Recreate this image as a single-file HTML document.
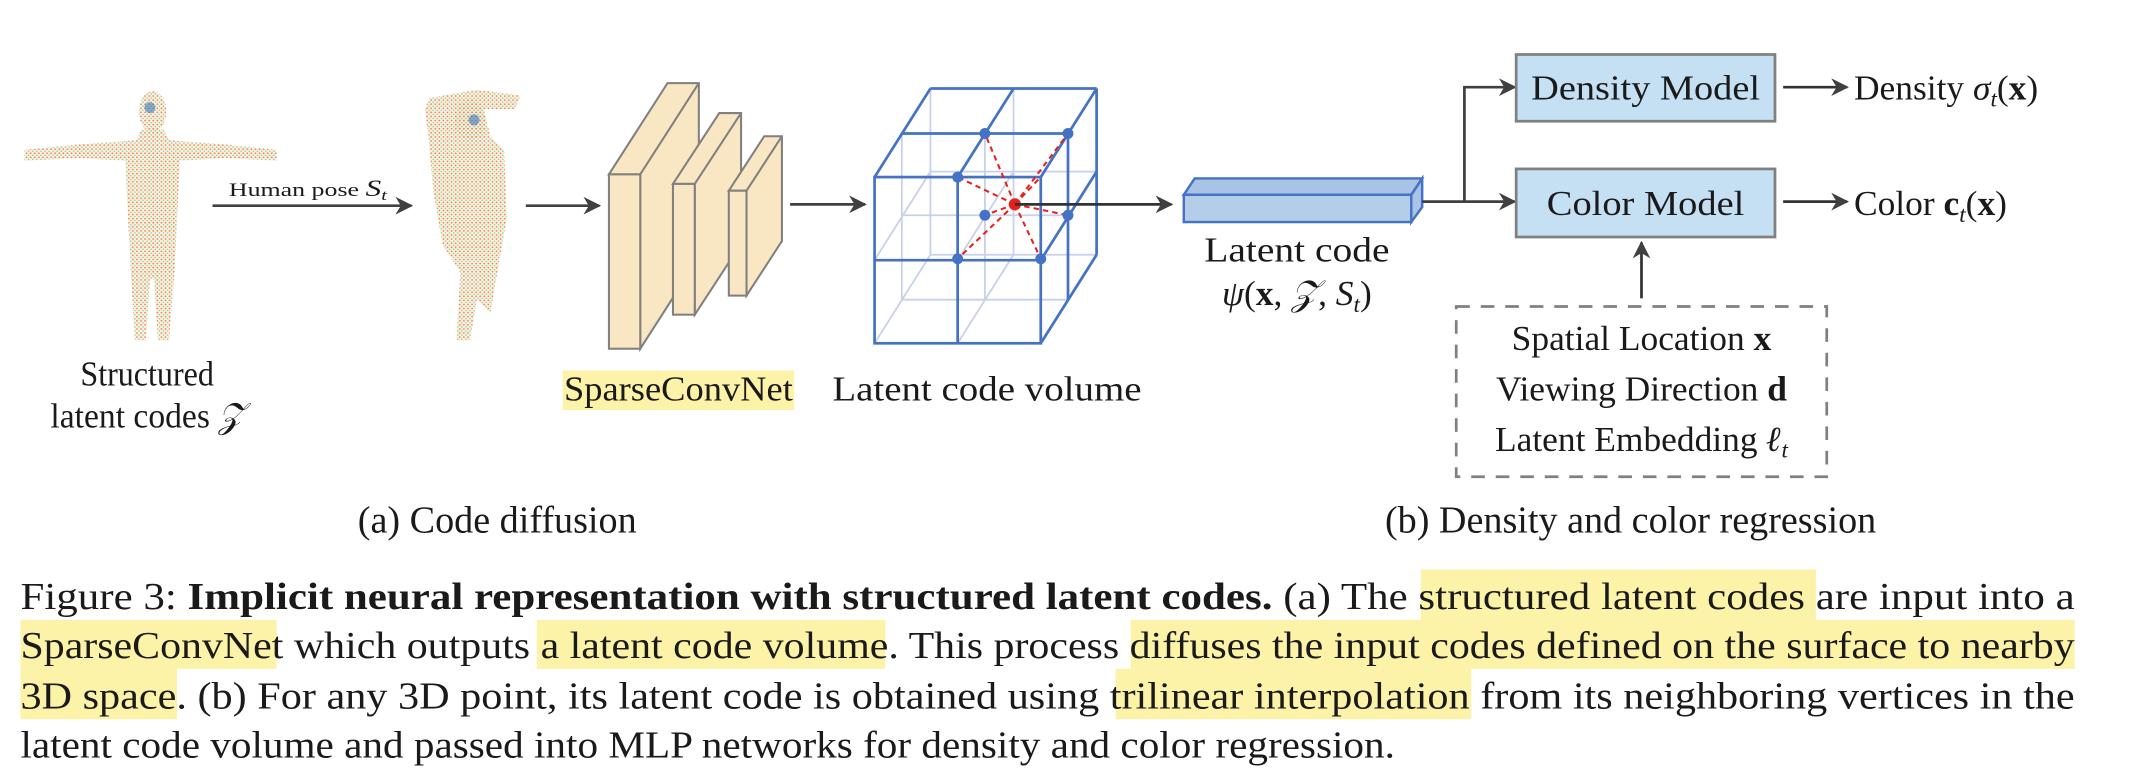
<!DOCTYPE html>
<html><head><meta charset="utf-8"><style>
html,body{margin:0;padding:0;background:#fff;}
svg{display:block;font-family:"Liberation Serif","Times New Roman",Times,serif;}
text{font-family:"Liberation Serif","Times New Roman",Times,serif;fill:#1a1a1a;}
</style></head><body>
<svg width="2136" height="780" viewBox="0 0 1568 572.6" font-family="Liberation Serif, Times New Roman, serif" xmlns="http://www.w3.org/2000/svg">
<defs>
<marker id="ah" viewBox="0 0 10 10" refX="9" refY="5" markerWidth="13" markerHeight="13" orient="auto" markerUnits="userSpaceOnUse">
<path d="M0,0 L10,5 L0,10 L3,5 Z" fill="#404040"/>
</marker>
<pattern id="dots" width="3" height="3" patternUnits="userSpaceOnUse">
<circle cx="1.5" cy="1.5" r="0.7" fill="#e0905a"/>
</pattern>
<pattern id="dots2" width="3" height="3" patternUnits="userSpaceOnUse" x="1.5" y="1.5">
<circle cx="1.5" cy="1.5" r="0.6" fill="#8fcf8f"/>
</pattern>
<g id="h1">
<ellipse cx="112" cy="82" rx="10" ry="15"/>
<path d="M104,95 L120,95 L124,103 L165,106 L203,110 L203,118 L165,116 L132,118 L130,160 L128,200 L124,250 L116,250 L113,205 L110,205 L107,250 L99,250 L96,200 L94,160 L92,118 L58,116 L18,118 L18,110 L58,106 L100,103 Z"/>
</g>
<g id="h2">
<ellipse cx="345" cy="88" rx="11" ry="15"/>
<path d="M315,72 L350,66 L382,70 L378,80 L355,80 L360,100 L370,110 L372,160 L365,200 L360,230 L350,220 L345,250 L335,250 L338,200 L325,180 L318,140 L315,105 L312,80 Z"/>
</g>
</defs>
<rect width="1568" height="572.6" fill="#fff"/>

<!-- Human 1 -->
<g>
<use href="#h1" fill="#fdf1e6"/>
<use href="#h1" fill="url(#dots)"/>
<use href="#h1" fill="url(#dots2)"/>
<circle cx="110" cy="79" r="4" fill="#3a7cc0" opacity="0.6"/>
</g>
<!-- Human 2 -->
<g>
<use href="#h2" fill="#fdf1e6"/>
<use href="#h2" fill="url(#dots)"/>
<use href="#h2" fill="url(#dots2)"/>
<circle cx="348" cy="88" r="4" fill="#3a7cc0" opacity="0.6"/>
</g>
<text x="108" y="283" font-size="26" text-anchor="middle" textLength="98" lengthAdjust="spacingAndGlyphs">Structured</text>
<text x="108" y="314" font-size="26" text-anchor="middle" textLength="142" lengthAdjust="spacingAndGlyphs">latent codes <tspan font-style="italic">𝒵</tspan></text>

<text x="168" y="144" font-size="14" textLength="116" lengthAdjust="spacingAndGlyphs">Human pose <tspan font-style="italic" font-size="17">S</tspan><tspan font-style="italic" font-size="11" dy="3">t</tspan></text>
<line x1="156" y1="151" x2="302" y2="151" stroke="#404040" stroke-width="2" marker-end="url(#ah)"/>
<line x1="386" y1="151" x2="440" y2="151" stroke="#404040" stroke-width="2" marker-end="url(#ah)"/>

<!-- Conv blocks -->
<g fill="#f9e6c2" stroke="#808080" stroke-width="1.5">
<path d="M447,128 L490,61 L513,61 L513,189 L470,256 L470,128 Z"/>
<line x1="470" y1="128" x2="513" y2="61"/>
<rect x="447" y="128" width="23" height="128"/>
<path d="M494,135 L528,83 L544,83 L544,179 L510,231 L510,135 Z"/>
<line x1="510" y1="135" x2="544" y2="83"/>
<rect x="494" y="135" width="16" height="96"/>
<path d="M535,140 L561,100 L574,100 L574,177 L548,217 L548,140 Z"/>
<line x1="548" y1="140" x2="574" y2="100"/>
<rect x="535" y="140" width="13" height="77"/>
</g>
<rect x="413" y="272" width="170" height="29" fill="#fdf3a8"/>
<text x="414" y="294" font-size="26" textLength="168" lengthAdjust="spacingAndGlyphs">SparseConvNet</text>
<line x1="580" y1="150" x2="635" y2="150" stroke="#404040" stroke-width="2" marker-end="url(#ah)"/>

<!-- Cube -->
<g fill="none">
<g stroke="#c8d0ea" stroke-width="1.3">
<rect x="683" y="65" width="122" height="122"/>
<line x1="744" y1="65" x2="744" y2="187"/><line x1="683" y1="126" x2="805" y2="126"/>
<line x1="642" y1="252" x2="683" y2="187"/><line x1="703" y1="252" x2="744" y2="187"/>
<line x1="642" y1="191" x2="683" y2="126"/><line x1="703" y1="191" x2="744" y2="126"/>
<line x1="662" y1="158" x2="784" y2="158"/>
<line x1="662" y1="98" x2="662" y2="220"/><line x1="723" y1="98" x2="723" y2="220"/>
<line x1="662" y1="220" x2="784" y2="220"/>
</g>
<g stroke="#4472c4" stroke-width="2">
<rect x="642" y="130" width="122" height="122"/>
<line x1="703" y1="130" x2="703" y2="252"/><line x1="642" y1="191" x2="764" y2="191"/>
<line x1="642" y1="130" x2="683" y2="65"/><line x1="683" y1="65" x2="805" y2="65"/>
<line x1="764" y1="130" x2="805" y2="65"/><line x1="805" y1="65" x2="805" y2="187"/>
<line x1="764" y1="252" x2="805" y2="187"/>
<line x1="744" y1="65" x2="703" y2="130"/><line x1="662" y1="98" x2="784" y2="98"/>
<line x1="784" y1="98" x2="784" y2="220"/><line x1="764" y1="191" x2="805" y2="126"/>
</g>
<g stroke="#e8201c" stroke-width="1.5" stroke-dasharray="4,3">
<line x1="745" y1="150" x2="723" y2="98"/><line x1="745" y1="150" x2="784" y2="98"/>
<line x1="745" y1="150" x2="703" y2="130"/><line x1="745" y1="150" x2="723" y2="158"/>
<line x1="745" y1="150" x2="784" y2="158"/><line x1="745" y1="150" x2="703" y2="190"/>
<line x1="745" y1="150" x2="764" y2="190"/><line x1="745" y1="150" x2="764" y2="130"/>
</g>
<g fill="#4472c4">
<circle cx="723" cy="98" r="4"/><circle cx="784" cy="98" r="4"/><circle cx="703" cy="130" r="4"/>
<circle cx="723" cy="158" r="4"/><circle cx="784" cy="158" r="4"/><circle cx="703" cy="190" r="4"/><circle cx="764" cy="190" r="4"/>
</g>
<circle cx="745" cy="150" r="4.5" fill="#e8201c"/>
</g>
<text x="611" y="294" font-size="26" textLength="227" lengthAdjust="spacingAndGlyphs">Latent code volume</text>
<line x1="745" y1="150" x2="860" y2="150" stroke="#333" stroke-width="2" marker-end="url(#ah)"/>

<!-- Latent code bar -->
<g fill="#b4cde8" stroke="#4472c4" stroke-width="1.8">
<path d="M869,143 L877,131 L1044,131 L1036,143 Z" fill="#a8c3e4"/>
<path d="M1036,143 L1044,131 L1044,152 L1036,163 Z" fill="#a8c3e4"/>
<rect x="869" y="143" width="167" height="20"/>
</g>
<text x="952" y="192" font-size="26" text-anchor="middle" textLength="136" lengthAdjust="spacingAndGlyphs">Latent code</text>
<text x="952" y="224" font-size="26" text-anchor="middle"><tspan font-style="italic">ψ</tspan>(<tspan font-weight="bold">x</tspan>, <tspan font-style="italic">𝒵</tspan>, <tspan font-style="italic">S</tspan><tspan font-style="italic" font-size="17" dy="5">t</tspan><tspan dy="-5">)</tspan></text>

<!-- branch -->
<polyline points="1044,148 1075,148 1075,64 1112,64" fill="none" stroke="#404040" stroke-width="2" marker-end="url(#ah)"/>
<line x1="1075" y1="148" x2="1112" y2="148" stroke="#404040" stroke-width="2" marker-end="url(#ah)"/>

<rect x="1113" y="40" width="190" height="49" fill="#c5dff3" stroke="#808080" stroke-width="2"/>
<text x="1208" y="73" font-size="26" text-anchor="middle" textLength="168" lengthAdjust="spacingAndGlyphs">Density Model</text>
<rect x="1113" y="124" width="190" height="50" fill="#c5dff3" stroke="#808080" stroke-width="2"/>
<text x="1208" y="158" font-size="26" text-anchor="middle" textLength="145" lengthAdjust="spacingAndGlyphs">Color Model</text>

<line x1="1309" y1="64" x2="1356" y2="64" stroke="#333" stroke-width="2" marker-end="url(#ah)"/>
<line x1="1309" y1="148" x2="1356" y2="148" stroke="#333" stroke-width="2" marker-end="url(#ah)"/>
<text x="1361" y="73" font-size="26">Density <tspan font-style="italic">σ</tspan><tspan font-style="italic" font-size="17" dy="5">t</tspan><tspan dy="-5">(</tspan><tspan font-weight="bold">x</tspan>)</text>
<text x="1361" y="158" font-size="26">Color <tspan font-weight="bold">c</tspan><tspan font-style="italic" font-size="17" dy="5">t</tspan><tspan dy="-5">(</tspan><tspan font-weight="bold">x</tspan>)</text>

<line x1="1205" y1="219" x2="1205" y2="178" stroke="#333" stroke-width="2" marker-end="url(#ah)"/>
<rect x="1069" y="225" width="272" height="125" fill="none" stroke="#808080" stroke-width="2" stroke-dasharray="10,8"/>
<text x="1205" y="257" font-size="26" text-anchor="middle">Spatial Location <tspan font-weight="bold">x</tspan></text>
<text x="1205" y="294" font-size="26" text-anchor="middle">Viewing Direction <tspan font-weight="bold">d</tspan></text>
<text x="1205" y="331" font-size="26" text-anchor="middle">Latent Embedding <tspan font-weight="bold" font-style="italic">ℓ</tspan><tspan font-style="italic" font-size="17" dy="5">t</tspan></text>

<text x="365" y="391" font-size="28" text-anchor="middle">(a) Code diffusion</text>
<text x="1197" y="391" font-size="28" text-anchor="middle">(b) Density and color regression</text>

<!-- Caption -->
<g fill="#fdf3a8">
<rect x="1043" y="418" width="290" height="37"/>
<rect x="15" y="455" width="188" height="36"/>
<rect x="394" y="455" width="256" height="36"/>
<rect x="830" y="455" width="693" height="36"/>
<rect x="15" y="491" width="115" height="37"/>
<rect x="819" y="491" width="261" height="37"/>
</g>
<text x="15" y="447" font-size="28" textLength="1508" lengthAdjust="spacingAndGlyphs">Figure 3: <tspan font-weight="bold">Implicit neural representation with structured latent codes.</tspan> (a) The structured latent codes are input into a</text>
<text x="15" y="483" font-size="28" textLength="1508" lengthAdjust="spacingAndGlyphs">SparseConvNet which outputs a latent code volume. This process diffuses the input codes defined on the surface to nearby</text>
<text x="15" y="520" font-size="28" textLength="1508" lengthAdjust="spacingAndGlyphs">3D space. (b) For any 3D point, its latent code is obtained using trilinear interpolation from its neighboring vertices in the</text>
<text x="15" y="556" font-size="28" textLength="1009" lengthAdjust="spacingAndGlyphs">latent code volume and passed into MLP networks for density and color regression.</text>
</svg>
</body></html>
